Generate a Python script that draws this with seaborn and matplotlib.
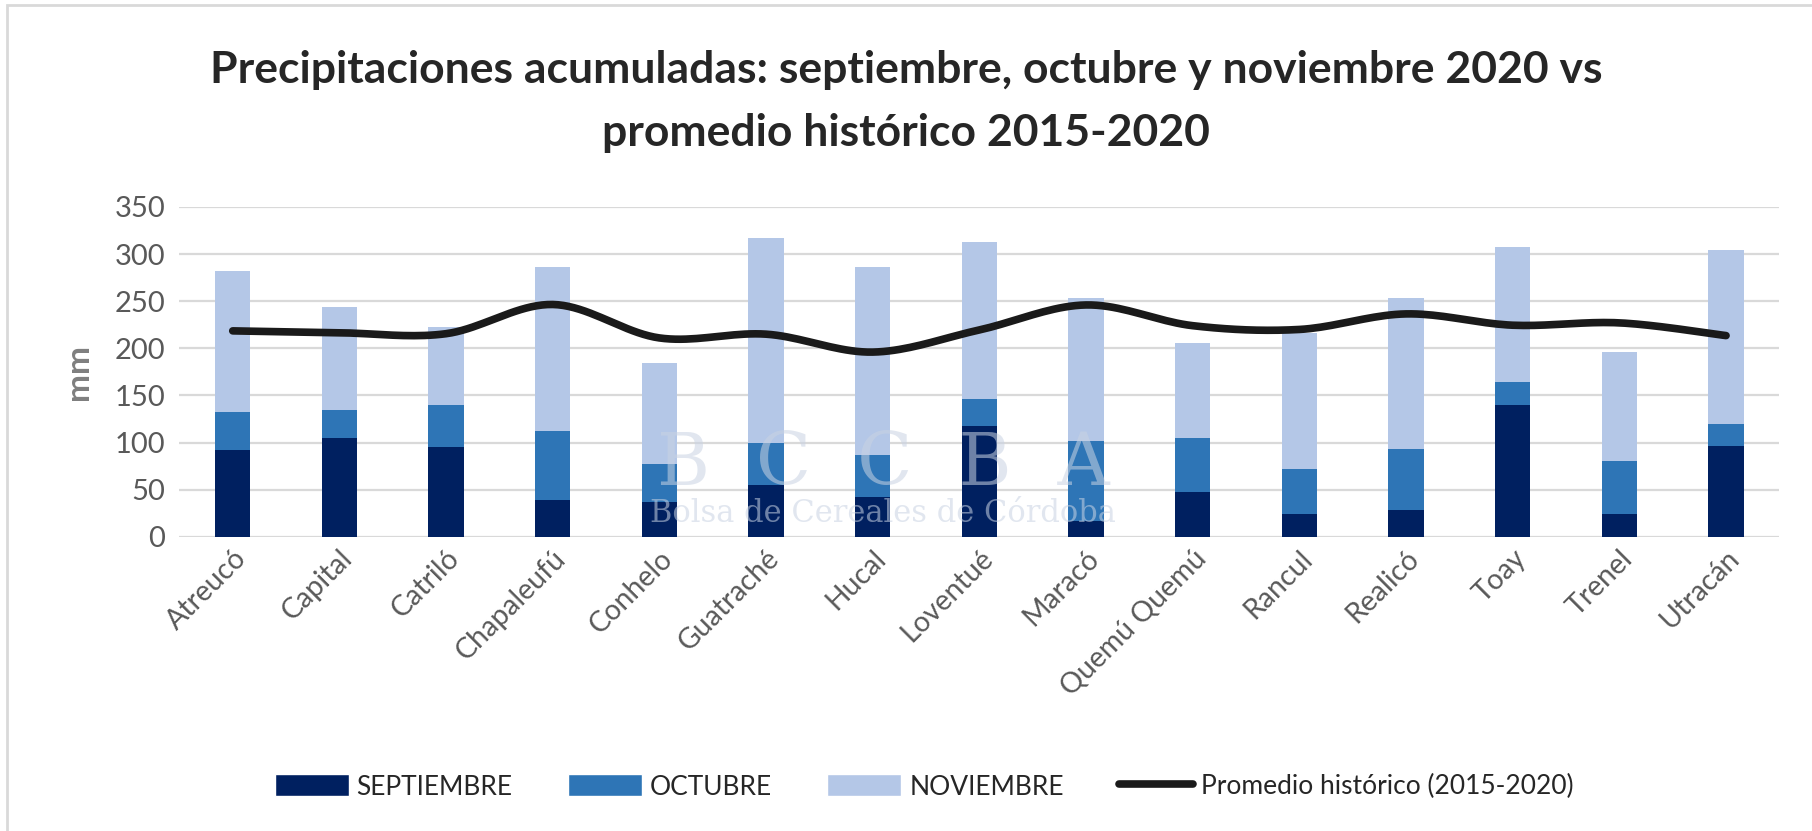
import numpy as np
import pandas as pd
import matplotlib
matplotlib.use('Agg')
import matplotlib.pyplot as plt
import seaborn as sns
from matplotlib.patches import Patch, Rectangle
from matplotlib.lines import Line2D

# data (mm)
departamentos = ['Atreucó', 'Capital', 'Catriló', 'Chapaleufú', 'Conhelo', 'Guatraché',
                 'Hucal', 'Loventué', 'Maracó', 'Quemú Quemú', 'Rancul', 'Realicó',
                 'Toay', 'Trenel', 'Utracán']
septiembre = [92, 104.5, 95.5, 39.5, 37, 54.5, 42.5, 117.5, 17, 47.5, 24, 28.5, 139.5, 24, 96]
octubre = [40.5, 30, 44.5, 73, 40.5, 45, 44, 28.5, 84.5, 57, 47.5, 64.5, 24.5, 56, 24]
noviembre = [149.5, 109, 83, 174, 106.5, 218, 200, 167, 151.5, 101.5, 144.5, 160, 143.5, 116.5, 184.5]
promedio = [218.5, 216.5, 215.5, 246.5, 211, 215, 196, 219.5, 246, 224, 220, 236.5, 224.5, 227, 213.5]

meses = ['SEPTIEMBRE', 'OCTUBRE', 'NOVIEMBRE']
colores = ['#002060', '#2E75B6', '#B4C7E7']
linea_label = 'Promedio histórico (2015-2020)'

df = pd.DataFrame({'dep': departamentos, 'SEPTIEMBRE': septiembre,
                   'OCTUBRE': octubre, 'NOVIEMBRE': noviembre})

sns.set_style('white')
plt.rcParams['font.family'] = ['Lato', 'DejaVu Sans']

fig = plt.figure(figsize=(18.12, 8.31), dpi=100)
ax = fig.add_axes([0.099, 0.354, 0.883, 0.397])

# stacked bars: cumulative heights, tallest drawn first
bottom = np.zeros(len(df))
for mes, col in zip(meses, colores):
    sns.barplot(x=df['dep'], y=df[mes] + bottom, color=col, width=0.33,
                ax=ax, saturation=1)
    bottom = bottom + df[mes].values
for i, cont in enumerate(ax.containers):
    for b in cont:
        b.set_zorder(3 + (len(ax.containers) - i))
        b.set_linewidth(0)

# smoothed historical average line (Catmull-Rom through the values)
x = np.arange(len(promedio), dtype=float)
y = np.array(promedio, dtype=float)
xs, ys = [], []
p = np.column_stack([x, y])
pp = np.vstack([p[0], p, p[-1]])
for i in range(1, len(pp) - 2):
    p0, p1, p2, p3 = pp[i - 1], pp[i], pp[i + 1], pp[i + 2]
    for t in np.linspace(0, 1, 20, endpoint=False):
        t2, t3 = t * t, t * t * t
        pt = 0.5 * ((2 * p1) + (-p0 + p2) * t + (2 * p0 - 5 * p1 + 4 * p2 - p3) * t2
                    + (-p0 + 3 * p1 - 3 * p2 + p3) * t3)
        xs.append(pt[0]); ys.append(pt[1])
xs.append(x[-1]); ys.append(y[-1])
sns.lineplot(x=xs, y=ys, sort=False, color='#1a1a1a', linewidth=5.5,
             solid_capstyle='round', ax=ax, zorder=10)

ax.set_ylim(0, 350)
ax.set_xlim(-0.5, len(departamentos) - 0.5)
ax.set_yticks(range(0, 351, 50))
ax.yaxis.grid(True, color='#d9d9d9', linewidth=1.6, zorder=0)
ax.set_axisbelow(True)
for s in ax.spines.values():
    s.set_visible(False)
ax.tick_params(axis='y', labelsize=21, labelcolor='#595959', length=0, pad=10)
ax.tick_params(axis='x', labelsize=20.5, labelcolor='#595959', length=0, pad=6)
ax.set_xticks(range(len(departamentos)))
ax.set_xticklabels(departamentos, rotation=45, ha='right', rotation_mode='anchor')
ax.set_xlabel('')
ax.set_ylabel('mm', fontsize=24, fontweight='bold', color='#7f7f7f', labelpad=16)

# watermark
ax.text(0.44, 0.22, 'B  C  C  B  A', transform=ax.transAxes, fontsize=52,
        family='DejaVu Serif', color='#c9d3e3', alpha=0.55, ha='center', va='center', zorder=20)
ax.text(0.44, 0.07, 'Bolsa de Cereales de Córdoba', transform=ax.transAxes, fontsize=22,
        family='DejaVu Serif', color='#c9d3e3', alpha=0.55, ha='center', va='center', zorder=20)

fig.suptitle('Precipitaciones acumuladas: septiembre, octubre y noviembre 2020 vs\n'
             'promedio histórico 2015-2020', fontsize=32, fontweight='bold',
             x=0.5, y=0.94, linespacing=1.7)

handles = [Patch(facecolor=c, label=m) for m, c in zip(meses, colores)]
handles.append(Line2D([0], [0], color='#1a1a1a', linewidth=5.5, label=linea_label))
fig.legend(handles=handles, loc='center', bbox_to_anchor=(0.51, 0.053), ncol=4,
           frameon=False, fontsize=19, handlelength=2.8, handleheight=0.9,
           columnspacing=2.1, handletextpad=0.3)

# outer chart border
fig.patches.append(Rectangle((0.004, -0.01), 1.0, 1.004, transform=fig.transFigure,
                             fill=False, edgecolor='#d9d9d9', linewidth=2))

fig.savefig('out.png', dpi=100)
